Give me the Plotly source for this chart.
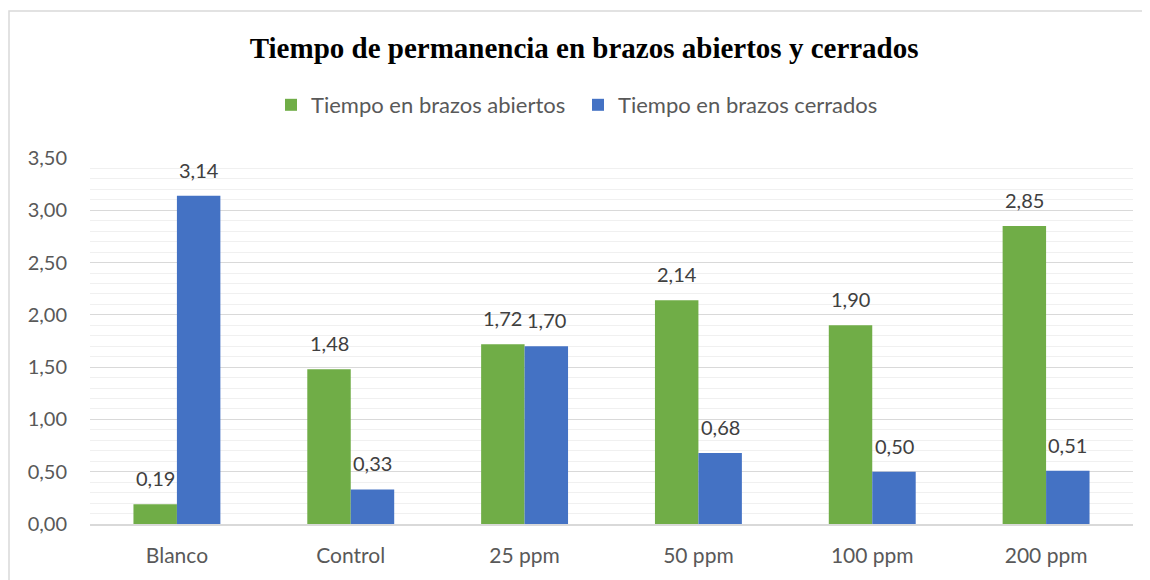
import plotly.graph_objects as go

categories = ["Blanco", "Control", "25 ppm", "50 ppm", "100 ppm", "200 ppm"]
abiertos = [0.19, 1.48, 1.72, 2.14, 1.90, 2.85]
cerrados = [3.14, 0.33, 1.70, 0.68, 0.50, 0.51]
series_names = ["Tiempo en brazos abiertos", "Tiempo en brazos cerrados"]
tick_vals = [0, 0.5, 1.0, 1.5, 2.0, 2.5, 3.0, 3.5]
tick_text = ["0,00", "0,50", "1,00", "1,50", "2,00", "2,50", "3,00", "3,50"]

GREEN = "#70ad47"
BLUE = "#4472c4"
FONT = "Lato"
TXT = "#595959"

L, R, T, B = 82, 25, 150, 64
PW = 1150 - L - R
PH = 580 - T - B

fig = go.Figure()
fig.add_trace(go.Bar(x=categories, y=abiertos, name=series_names[0],
                     marker=dict(color=GREEN, line=dict(width=0))))
fig.add_trace(go.Bar(x=categories, y=cerrados, name=series_names[1],
                     marker=dict(color=BLUE, line=dict(width=0))))

def fmt(v):
    return f"{v:.2f}".replace(".", ",")

for vals, shift in ((abiertos, -21.75), (cerrados, 21.75)):
    for c, v in zip(categories, vals):
        fig.add_annotation(x=c, y=v, text=fmt(v), showarrow=False,
                           xshift=shift, yshift=12, yanchor="bottom",
                           font=dict(family=FONT, size=20, color="#404040"))

# chart border
fig.add_shape(type="rect", xref="paper", yref="paper",
              x0=(1 - L) / PW, x1=(1170 - L) / PW,
              y0=-(B + 20) / PH, y1=(T + PH - 3) / PH,
              line=dict(color="#d9d9d9", width=1.5), fillcolor="rgba(0,0,0,0)")

fig.update_layout(
    width=1150, height=580,
    margin=dict(l=L, r=R, t=T, b=B),
    paper_bgcolor="white", plot_bgcolor="white",
    barmode="group", bargap=0.5, bargroupgap=0,
    separators=",.",
    title=dict(text="<b>Tiempo de permanencia en brazos abiertos y cerrados</b>",
               x=0.501, xanchor="center", y=1 - 40 / 580, yanchor="middle",
               font=dict(family="Liberation Serif", size=29, color="black")),
    legend=dict(orientation="h", x=(570 - L) / PW, xanchor="center",
                y=(T + PH - 97) / PH, yanchor="middle",
                font=dict(family=FONT, size=22, color=TXT),
                entrywidth=262, entrywidthmode="pixels",
                itemwidth=30, traceorder="normal"),
    showlegend=True,
)
fig.update_yaxes(range=[0, 3.5], tickvals=tick_vals, ticktext=tick_text,
                 showgrid=True, gridcolor="#d9d9d9", gridwidth=1,
                 minor=dict(dtick=0.1, showgrid=True, gridcolor="#f0f0f0", gridwidth=1),
                 zeroline=False, showline=False, ticks="", ticklabelstandoff=22,
                 tickfont=dict(family=FONT, size=20, color=TXT))
fig.update_xaxes(showline=True, linecolor="#d9d9d9", linewidth=1.5, showgrid=False,
                 ticks="", ticklabelstandoff=12,
                 tickfont=dict(family=FONT, size=21, color=TXT))

fig.write_html("out.html")
